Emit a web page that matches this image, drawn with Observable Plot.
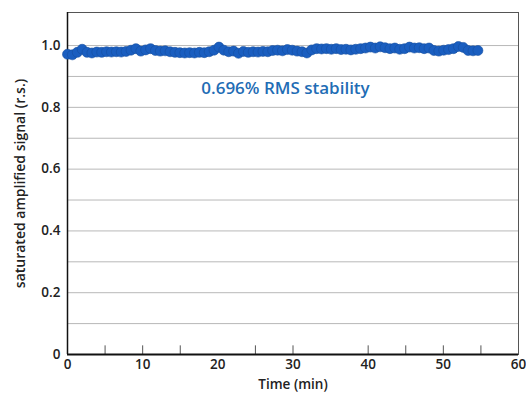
<!DOCTYPE html>
<html>
<head>
<meta charset="utf-8">
<script src="https://cdn.jsdelivr.net/npm/d3@7"></script>
<script src="https://cdn.jsdelivr.net/npm/@observablehq/plot@0.6"></script>
<style>
  html, body { margin: 0; padding: 0; background: #fff; }
  #chart svg { display: block; }
</style>
</head>
<body>
<div id="chart"></div>
<script>
const times = [0,0.65,1.3,1.95,2.6,3.25,3.9,4.55,5.2,5.85,6.5,7.15,7.8,8.45,9.1,9.75,10.4,11.05,11.7,12.35,13,13.65,14.3,14.95,15.6,16.25,16.9,17.55,18.2,18.85,19.5,20.15,20.8,21.45,22.1,22.75,23.4,24.05,24.7,25.35,26,26.65,27.3,27.95,28.6,29.25,29.9,30.55,31.2,31.85,32.5,33.15,33.8,34.45,35.1,35.75,36.4,37.05,37.7,38.35,39,39.65,40.3,40.95,41.6,42.25,42.9,43.55,44.2,44.85,45.5,46.15,46.8,47.45,48.1,48.75,49.4,50.05,50.7,51.35,52,52.65,53.3,53.95,54.6];
const signal = [0.972,0.970,0.978,0.988,0.978,0.976,0.979,0.978,0.980,0.979,0.980,0.979,0.981,0.985,0.990,0.982,0.986,0.990,0.984,0.982,0.983,0.980,0.978,0.977,0.976,0.977,0.976,0.978,0.977,0.980,0.985,0.995,0.985,0.980,0.982,0.975,0.981,0.978,0.980,0.979,0.981,0.980,0.984,0.985,0.983,0.987,0.985,0.982,0.980,0.976,0.986,0.990,0.989,0.990,0.988,0.990,0.987,0.988,0.986,0.988,0.990,0.992,0.995,0.992,0.996,0.993,0.990,0.992,0.988,0.990,0.995,0.992,0.993,0.990,0.992,0.984,0.982,0.985,0.987,0.990,0.997,0.994,0.984,0.983,0.984];
const xTickLabels = [0,10,20,30,40,50,60];
const xMinorTicks = [5,10,15,25,30,40,45,50,55];
const yTickLabels = [0,0.2,0.4,0.6,0.8,1.0];
const yGridLines = [0.1,0.2,0.3,0.4,0.5,0.6,0.7,0.8,0.9,1.0];
const annotation = [{x: 29, y: 0.862, text: "0.696% RMS stability"}];

const data = times.map((t, i) => ({t, v: signal[i]}));
const font = "Open Sans, Lato, sans-serif";

const chart = Plot.plot({
  width: 526,
  height: 396,
  marginLeft: 67,
  marginRight: 8,
  marginTop: 12,
  marginBottom: 42,
  style: {fontFamily: font, background: "#fff", color: "#222"},
  x: {domain: [0, 60]},
  y: {domain: [0, 1.107]},
  marks: [
    Plot.ruleY(yGridLines, {stroke: "#b8b8b8", strokeWidth: 1}),
    Plot.frame({stroke: "#555", strokeWidth: 1}),
    Plot.ruleX(xMinorTicks, {y1: 0, y2: 0.028, stroke: "#555", strokeWidth: 1}),
    Plot.axisX({ticks: xTickLabels, tickSize: 0, tickPadding: 5, fontSize: 13.5, fontWeight: 600,
      label: "Time (min)", labelAnchor: "center", labelArrow: "none", labelOffset: 34, tickFormat: d => String(d)}),
    Plot.axisY({ticks: yTickLabels, tickSize: 0, tickPadding: 7, fontSize: 13.5, fontWeight: 600,
      label: null, tickFormat: d => d === 0 ? "0" : d.toFixed(1)}),
    Plot.axisY({ticks: [], tickSize: 0, fontSize: 14, fontWeight: 600,
      label: "saturated amplified signal (r.s.)", labelAnchor: "center", labelArrow: "none", labelOffset: 52}),
    Plot.ruleY([0], {stroke: "#111", strokeWidth: 2}),
    Plot.ruleX([0], {stroke: "#111", strokeWidth: 1.5}),
    Plot.dot(data, {x: "t", y: "v", r: 5, fill: "#1a5ec0", stroke: "#164f9f", strokeWidth: 0.6}),
    Plot.text(annotation, {x: "x", y: "y", text: "text", fill: "#1f6db5", fontSize: 17, fontWeight: 600, fontFamily: font, letterSpacing: "0.3px"})
  ]
});
document.getElementById("chart").appendChild(chart);
</script>
</body>
</html>
